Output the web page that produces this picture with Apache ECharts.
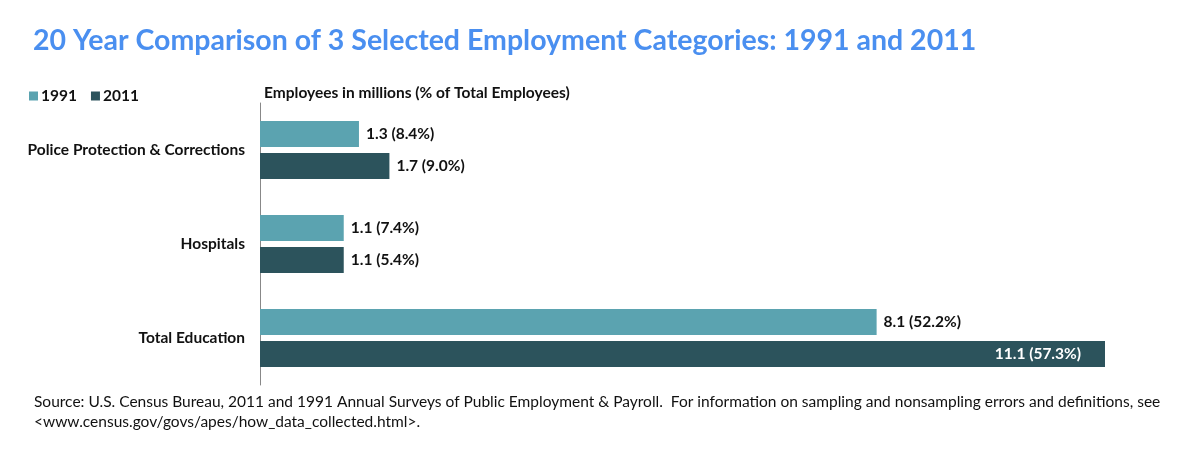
<!DOCTYPE html>
<html>
<head>
<meta charset="utf-8">
<script src="https://cdn.jsdelivr.net/npm/echarts@6/dist/echarts.min.js"></script>
<style>html,body{margin:0;padding:0;background:#fff}#c{width:1200px;height:450px}</style>
</head>
<body>
<div id="c"></div>
<script>
const categories = ['Police Protection & Corrections', 'Hospitals', 'Total Education'];
const seriesNames = ['1991', '2011'];
const values1991 = [1.3, 1.1, 8.1];
const values2011 = [1.7, 1.1, 11.1];
const pct1991 = ['8.4', '7.4', '52.2'];
const pct2011 = ['9.0', '5.4', '57.3'];
const titleText = '20 Year Comparison of 3 Selected Employment Categories: 1991 and 2011';
const axisTitle = 'Employees in millions (% of Total Employees)';
const sourceLines = [
  'Source: U.S. Census Bureau, 2011 and 1991 Annual Surveys of Public Employment & Payroll.  For information on sampling and nonsampling errors and definitions, see',
  '<www.census.gov/govs/apes/how_data_collected.html>.'
];

const FONT = 'Lato, "Open Sans", sans-serif';
const chart = echarts.init(document.getElementById('c'));

function labelFor(vals, pcts) {
  return p => vals[p.dataIndex].toFixed(1) + ' (' + pcts[p.dataIndex] + '%)';
}

const labelBase = {show: true, position: 'right', distance: 7, color: '#111', fontFamily: FONT, fontWeight: 'bold', fontSize: 15.5};

chart.setOption({
  animation: false,
  textStyle: {fontFamily: FONT},
  title: [
    {text: titleText, left: 28, top: 21, textStyle: {color: '#4a8ff0', fontSize: 28.5, fontWeight: 'bold', fontFamily: FONT}},
    {text: axisTitle, left: 259, top: 80, textStyle: {color: '#111', fontSize: 15.5, fontWeight: 'bold', fontFamily: FONT}},
    {text: sourceLines.join('\n'), left: 29, top: 387, textStyle: {color: '#111', fontSize: 15.5, fontWeight: 'normal', fontFamily: FONT, lineHeight: 20}}
  ],
  legend: {
    left: 24, top: 83, itemWidth: 9, itemHeight: 9, itemGap: 14,
    icon: 'rect',
    textStyle: {color: '#111', fontWeight: 'bold', fontSize: 15.5, fontFamily: FONT, padding: [0, 0, 0, -2]},
    data: seriesNames
  },
  grid: {left: 260, top: 103, height: 282, width: 845, containLabel: false},
  xAxis: {type: 'value', min: 0, max: 11.1, show: false},
  yAxis: {
    type: 'category', data: categories, inverse: true,
    axisLine: {show: true, lineStyle: {color: '#888', width: 1}},
    axisTick: {show: false},
    axisLabel: {color: '#111', fontWeight: 'bold', fontSize: 15.5, fontFamily: FONT, margin: 15}
  },
  series: [
    {
      name: seriesNames[0], type: 'bar', data: values1991,
      itemStyle: {color: '#5ba3b0'},
      barWidth: 26, barGap: '23%',
      label: Object.assign({}, labelBase, {formatter: labelFor(values1991, pct1991)})
    },
    {
      name: seriesNames[1], type: 'bar',
      data: values2011.map((v, i) => i === 2 ? {value: v, label: {position: 'insideRight', color: '#fff', distance: 24}} : v),
      itemStyle: {color: '#2c535c'},
      barWidth: 26,
      label: Object.assign({}, labelBase, {formatter: labelFor(values2011, pct2011)})
    }
  ]
});
</script>
</body>
</html>
